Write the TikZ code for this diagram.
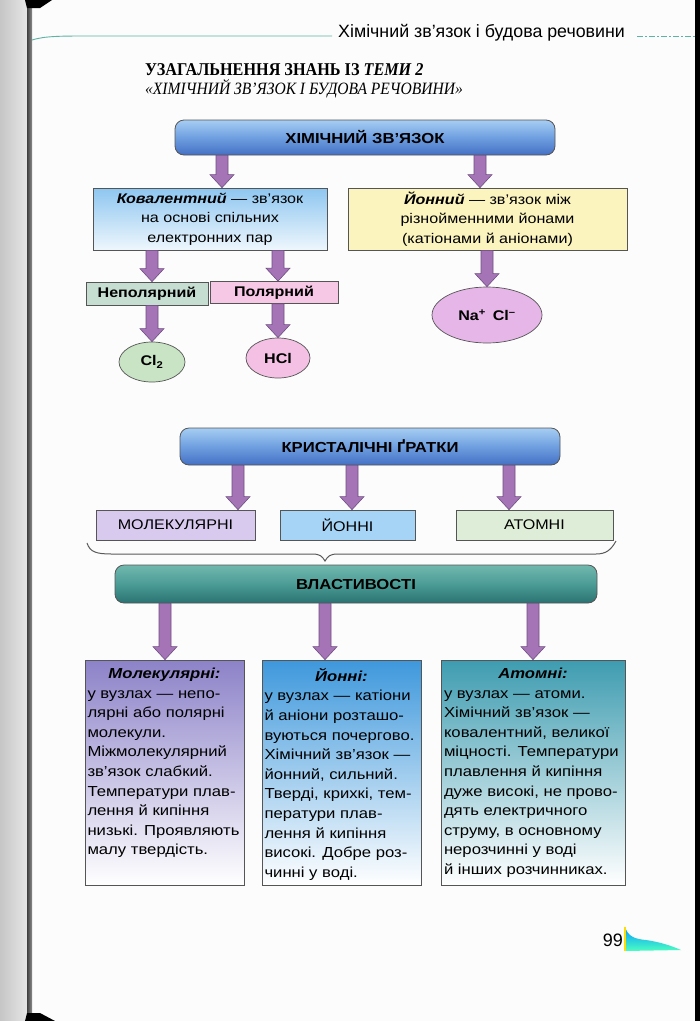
\documentclass[tikz,border=0pt]{standalone}
\usepackage{fontspec}
\setmainfont{Liberation Sans}[FakeStretch=1.15]
\newfontfamily\serifttl{Liberation Serif}[FakeStretch=0.9]
\newfontfamily\hdrfont{Liberation Sans}
\usetikzlibrary{shapes.geometric,calc}
\definecolor{barTop}{HTML}{A6CDF2}
\definecolor{barMid}{HTML}{6F9FE0}
\definecolor{barBot}{HTML}{4470C4}
\definecolor{propTop}{HTML}{70B8AE}
\definecolor{propMid}{HTML}{4C9C96}
\definecolor{propBot}{HTML}{2A7272}
\definecolor{arrFill}{HTML}{A574B6}
\definecolor{arrLine}{HTML}{6E4E80}
\definecolor{covTop}{HTML}{8EC6F0}
\definecolor{ionY}{HTML}{FBF4BE}
\definecolor{npC}{HTML}{C6DED2}
\definecolor{polC}{HTML}{F7C8E6}
\definecolor{clC}{HTML}{C8E4C4}
\definecolor{hclC}{HTML}{F4C0E4}
\definecolor{naC}{HTML}{E6B6E8}
\definecolor{molC}{HTML}{D8CAEE}
\definecolor{ionC}{HTML}{A6D4F6}
\definecolor{atC}{HTML}{DDEDD8}
\definecolor{bmTop}{HTML}{8C82C8}
\definecolor{biTop}{HTML}{3E98DC}
\definecolor{baTop}{HTML}{3E9CB0}
\definecolor{headC}{HTML}{5CB4A4}
\definecolor{edgeC}{HTML}{555555}
\newcommand\blockarr[2]{%
  \path[arrowsty] let \p1=(#1), \p2=(#2) in
   (\x1-6pt,\y1) -- (\x1-6pt,\y2+13pt) -- (\x1-12pt,\y2+13pt) -- (\x1,\y2)
   -- (\x1+12pt,\y2+13pt) -- (\x1+6pt,\y2+13pt) -- (\x1+6pt,\y1) -- cycle;}
\tikzset{
  arrowsty/.style={fill=arrFill, draw=arrLine, line width=0.6pt, line join=miter},
  bar/.style={rounded corners=9pt, draw=edgeC, line width=0.8pt, top color=barTop, bottom color=barBot, middle color=barMid, font=\fontsize{14.5}{16}\selectfont\bfseries},
  propbar/.style={bar, top color=propTop, bottom color=propBot, middle color=propMid},
  box/.style={rectangle, draw=edgeC, line width=0.7pt, inner sep=2pt, align=center, font=\fontsize{14}{19.5}\selectfont},
  oval/.style={ellipse, draw=edgeC, line width=0.7pt, inner sep=0pt, font=\fontsize{14}{16}\selectfont\bfseries},
  bigbox/.style={rectangle, draw=edgeC, line width=0.7pt, inner sep=0pt, bottom color=white, font=\fontsize{14.5}{19.6}\selectfont}
}
\begin{document}
\begin{tikzpicture}[x=1pt,y=-1pt]
\useasboundingbox (0,0) rectangle (700,1021);
\fill[white!98!gray] (0,0) rectangle (700,1021);
% binding at left
\shade[left color=gray!45, right color=gray!20] (0,0) rectangle (27,1021);
\shade[left color=black!75, right color=black!45] (27,0) rectangle (32,1021);
\fill[black] (25,0) -- (52,0) -- (40,8) -- (27,8) -- cycle;
\fill[black] (25,1021) -- (55,1021) -- (40,1013) -- (27,1013) -- cycle;
\fill[black] (695,0) rectangle (700,1021);
% header
\draw[headC, line width=0.9pt] (32,40) .. controls (45,36) and (60,36) .. (90,36) -- (332,36);
\draw[headC, line width=0.8pt, dash pattern=on 6pt off 2pt on 2pt off 2pt] (637,36) -- (695,36);
\node[font=\hdrfont\fontsize{17.8}{19}\selectfont, anchor=west, inner sep=0pt] (hdr) at (338,33) {Хімічний зв’язок і будова речовини};
\node[font=\serifttl\fontsize{18}{20}\selectfont\bfseries, anchor=west, inner sep=0pt] (t1) at (145,70) {УЗАГАЛЬНЕННЯ ЗНАНЬ ІЗ \textit{ТЕМИ 2}};
\node[font=\serifttl\fontsize{17.3}{19}\selectfont\itshape, anchor=west, inner sep=0pt] (t2) at (145,89) {«ХІМІЧНИЙ ЗВ’ЯЗОК І БУДОВА РЕЧОВИНИ»};
% column coordinates
\coordinate (c1) at (222,0);
\coordinate (c2) at (480,0);
\coordinate (c3) at (152,0);
\coordinate (c4) at (278,0);
\coordinate (c5) at (238,0);
\coordinate (c6) at (352,0);
\coordinate (c7) at (509,0);
\coordinate (c8) at (165,0);
\coordinate (c9) at (325,0);
\coordinate (c10) at (533,0);
% nodes
\node[bar, minimum width=380pt, minimum height=35pt] (top) at (365,137.5) {ХІМІЧНИЙ ЗВ’ЯЗОК};
\node[box, top color=covTop, bottom color=covTop!15, minimum width=234pt, minimum height=62pt] (cov) at (210,219)
  {\textbf{\textit{Ковалентний}} — зв'язок\\ на основі спільних\\ електронних пар};
\node[box, fill=ionY, minimum width=279pt, minimum height=62pt] (ion) at (487.5,219)
  {\textbf{\textit{Йонний}} — зв'язок між\\ різнойменними йонами\\ (катіонами й аніонами)};
\node[box, fill=npC, minimum width=122pt, minimum height=23pt, font=\fontsize{14}{16}\selectfont\bfseries] (np) at (147,293.5) {Неполярний};
\node[box, fill=polC, minimum width=128pt, minimum height=22pt, font=\fontsize{14}{16}\selectfont\bfseries] (pol) at (274,292.5) {Полярний};
\node[oval, fill=clC, minimum width=66pt, minimum height=40pt] (cl2) at (152,362) {Cl\textsubscript{2}};
\node[oval, fill=hclC, minimum width=64pt, minimum height=40pt] (hcl) at (278,358) {HCl};
\node[oval, fill=naC, minimum width=110pt, minimum height=56pt] (na) at (487,315) {Na\textsuperscript{+}\, Cl\textsuperscript{–}};
\node[bar, minimum width=380pt, minimum height=37pt] (cryst) at (370,446.5) {КРИСТАЛІЧНІ ҐРАТКИ};
\node[box, fill=molC, minimum width=159pt, minimum height=30pt] (mol) at (175.5,525) {МОЛЕКУЛЯРНІ};
\node[box, fill=ionC, minimum width=135pt, minimum height=30pt] (ionb) at (347.5,525) {ЙОННІ};
\node[box, fill=atC, minimum width=157pt, minimum height=30pt] (atom) at (534.5,525) {АТОМНІ};
\draw[gray!70!black, line width=1pt] (87,543) .. controls (90,552) and (96,554) .. (112,554) -- (312,554)
  .. controls (320,554) and (322,556) .. (325,561) .. controls (328,556) and (330,554) .. (338,554)
  -- (596,554) .. controls (606,554) and (611,550) .. (616,541);
\node[propbar, minimum width=482pt, minimum height=38pt] (props) at (356,584) {ВЛАСТИВОСТІ};
\node[bigbox, top color=bmTop, minimum width=159pt, minimum height=225pt] (bm) at (164.5,772.5)
  {\parbox[c][219pt][t]{154pt}{\vspace*{5pt}\makebox[154pt]{\textbf{\textit{Молекулярні:}}}\\
   у вузлах — непо-\\ лярні або полярні\\ молекули.\\ Міжмолекулярний\\ зв'язок слабкий.\\ Температури плав-\\ лення й кипіння\\ низькі. Проявляють\\ малу твердість.}};
\node[bigbox, top color=biTop, minimum width=159pt, minimum height=225pt] (bi) at (341.5,772.5)
  {\parbox[c][219pt][t]{154pt}{\vspace*{5pt}\makebox[154pt]{\textbf{\textit{Йонні:}}}\\
   у вузлах — катіони\\ й аніони розташо-\\ вуються почергово.\\ Хімічний зв'язок —\\ йонний, сильний.\\ Тверді, крихкі, тем-\\ ператури плав-\\ лення й кипіння\\ високі. Добре роз-\\ чинні у воді.}};
\node[bigbox, top color=baTop, minimum width=184pt, minimum height=225pt] (ba) at (533,772.5)
  {\parbox[c][219pt][t]{178pt}{\vspace*{5pt}\makebox[178pt]{\textbf{\textit{Атомні:}}}\\
   у вузлах — атоми.\\ Хімічний зв'язок —\\ ковалентний, великої\\ міцності. Температури\\ плавлення й кипіння\\ дуже високі, не прово-\\ дять електричного\\ струму, в основному\\ нерозчинні у воді\\ й інших розчинниках.}};
% arrows
\blockarr{top.south -| c1}{cov.north -| c1}
\blockarr{top.south -| c2}{ion.north -| c2}
\blockarr{cov.south -| c3}{np.north -| c3}
\blockarr{cov.south -| c4}{pol.north -| c4}
\blockarr{ion.south -| na}{na.north}
\blockarr{np.south -| cl2}{cl2.north}
\blockarr{pol.south -| hcl}{hcl.north}
\blockarr{cryst.south -| c5}{mol.north -| c5}
\blockarr{cryst.south -| c6}{ionb.north -| c6}
\blockarr{cryst.south -| c7}{atom.north -| c7}
\blockarr{props.south -| c8}{bm.north -| c8}
\blockarr{props.south -| c9}{bi.north -| c9}
\blockarr{props.south -| c10}{ba.north -| c10}
% page number and logo
\node[font=\hdrfont\fontsize{18}{20}\selectfont, anchor=east, inner sep=0pt] (pg) at (623,940) {99};
\shade[top color=cyan!60!blue, bottom color=green!35!cyan!70] (625,927) .. controls (628,936) and (634,939) .. (646,940) .. controls (660,942) and (672,946) .. (681,950) -- (625,951) -- cycle;
\draw[yellow!80!orange, line width=1.2pt] (625,927) -- (625,951);
\end{tikzpicture}
\end{document}
